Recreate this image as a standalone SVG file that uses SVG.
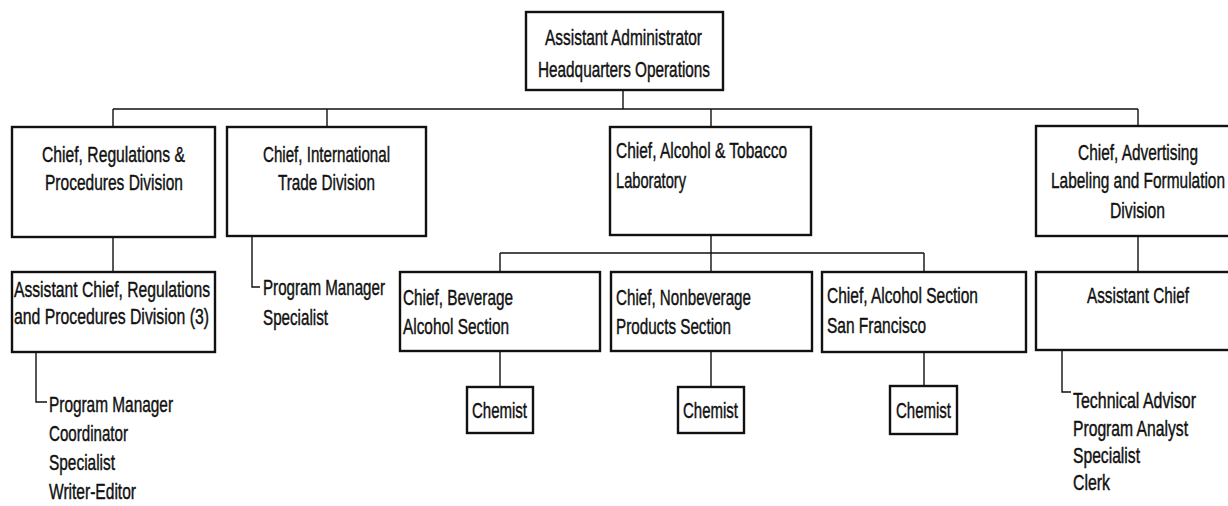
<svg xmlns="http://www.w3.org/2000/svg" width="1228" height="506" viewBox="0 0 1228 506">
<style>
.box{fill:#fff;stroke:#111;stroke-width:2.4}
.ln{fill:none;stroke:#111;stroke-width:1.4}
text{font-family:"Liberation Sans",Arial,sans-serif;font-size:15.5px;fill:#111;stroke:#111;stroke-width:0.3}
</style>
<rect width="1228" height="506" fill="#fff"/>
<g id="connectors">
<path class="ln" d="M623 90V109M113 109H1138M113 109V127M327 109V127M711 109V127M1138 109V126"/>
<path class="ln" d="M113 237V272M36 352V402H47M252 236V287H260"/>
<path class="ln" d="M711 235V272M500 253H924M500 253V272M924 253V272"/>
<path class="ln" d="M500 351V387M711 351V387M924 352V386"/>
<path class="ln" d="M1138 236V272M1062 350V392H1071"/>
</g>
<g id="n-top">
<rect class="box" x="526" y="12" width="197" height="78"/>
<text transform="translate(545 45) scale(1 1.42)" textLength="157" lengthAdjust="spacingAndGlyphs">Assistant Administrator</text>
<text transform="translate(538 77) scale(1 1.42)" textLength="172" lengthAdjust="spacingAndGlyphs">Headquarters Operations</text>
</g>
<g id="n-reg">
<rect class="box" x="12" y="127" width="203" height="110"/>
<text transform="translate(42 162) scale(1 1.42)" textLength="143" lengthAdjust="spacingAndGlyphs">Chief, Regulations &amp;</text>
<text transform="translate(45 190) scale(1 1.42)" textLength="138" lengthAdjust="spacingAndGlyphs">Procedures Division</text>
</g>
<g id="n-intl">
<rect class="box" x="227" y="127" width="199" height="109"/>
<text transform="translate(263 162) scale(1 1.42)" textLength="127" lengthAdjust="spacingAndGlyphs">Chief, International</text>
<text transform="translate(278 190) scale(1 1.42)" textLength="97" lengthAdjust="spacingAndGlyphs">Trade Division</text>
</g>
<g id="n-lab">
<rect class="box" x="610" y="127" width="201" height="108"/>
<text transform="translate(616 158) scale(1 1.42)" textLength="171" lengthAdjust="spacingAndGlyphs">Chief, Alcohol &amp; Tobacco</text>
<text transform="translate(616 188) scale(1 1.42)" textLength="70" lengthAdjust="spacingAndGlyphs">Laboratory</text>
</g>
<g id="n-adv">
<rect class="box" x="1036" y="126" width="200" height="110"/>
<text transform="translate(1078 160) scale(1 1.42)" textLength="120" lengthAdjust="spacingAndGlyphs">Chief, Advertising</text>
<text transform="translate(1051 188) scale(1 1.42)" textLength="174" lengthAdjust="spacingAndGlyphs">Labeling and Formulation</text>
<text transform="translate(1110 218) scale(1 1.42)" textLength="55" lengthAdjust="spacingAndGlyphs">Division</text>
</g>
<g id="n-asstreg">
<rect class="box" x="12" y="272" width="203" height="80"/>
<text transform="translate(14 297) scale(1 1.42)" textLength="196" lengthAdjust="spacingAndGlyphs">Assistant Chief, Regulations</text>
<text transform="translate(14 324) scale(1 1.42)" textLength="195" lengthAdjust="spacingAndGlyphs">and Procedures Division (3)</text>
</g>
<g id="n-reglist">
<text transform="translate(49 412) scale(1 1.42)" textLength="124" lengthAdjust="spacingAndGlyphs">Program Manager</text>
<text transform="translate(49 441) scale(1 1.42)" textLength="79" lengthAdjust="spacingAndGlyphs">Coordinator</text>
<text transform="translate(49 470) scale(1 1.42)" textLength="66" lengthAdjust="spacingAndGlyphs">Specialist</text>
<text transform="translate(49 499) scale(1 1.42)" textLength="87" lengthAdjust="spacingAndGlyphs">Writer-Editor</text>
</g>
<g id="n-intllist">
<text transform="translate(263 295) scale(1 1.42)" textLength="122" lengthAdjust="spacingAndGlyphs">Program Manager</text>
<text transform="translate(263 325) scale(1 1.42)" textLength="65" lengthAdjust="spacingAndGlyphs">Specialist</text>
</g>
<g id="n-bev">
<rect class="box" x="400" y="272" width="200" height="79"/>
<text transform="translate(403 305) scale(1 1.42)" textLength="110" lengthAdjust="spacingAndGlyphs">Chief, Beverage</text>
<text transform="translate(403 334) scale(1 1.42)" textLength="106" lengthAdjust="spacingAndGlyphs">Alcohol Section</text>
</g>
<g id="n-nonbev">
<rect class="box" x="611" y="272" width="201" height="79"/>
<text transform="translate(616 305) scale(1 1.42)" textLength="135" lengthAdjust="spacingAndGlyphs">Chief, Nonbeverage</text>
<text transform="translate(616 334) scale(1 1.42)" textLength="115" lengthAdjust="spacingAndGlyphs">Products Section</text>
</g>
<g id="n-sf">
<rect class="box" x="822" y="272" width="204" height="80"/>
<text transform="translate(827 303) scale(1 1.42)" textLength="151" lengthAdjust="spacingAndGlyphs">Chief, Alcohol Section</text>
<text transform="translate(827 333) scale(1 1.42)" textLength="99" lengthAdjust="spacingAndGlyphs">San Francisco</text>
</g>
<g id="n-asst">
<rect class="box" x="1036" y="272" width="200" height="78"/>
<text transform="translate(1087 303) scale(1 1.42)" textLength="102" lengthAdjust="spacingAndGlyphs">Assistant Chief</text>
</g>
<g id="n-chem1">
<rect class="box" x="467" y="387" width="66" height="46"/>
<text transform="translate(472 418) scale(1 1.42)" textLength="55" lengthAdjust="spacingAndGlyphs">Chemist</text>
</g>
<g id="n-chem2">
<rect class="box" x="678" y="387" width="66" height="46"/>
<text transform="translate(683 418) scale(1 1.42)" textLength="55" lengthAdjust="spacingAndGlyphs">Chemist</text>
</g>
<g id="n-chem3">
<rect class="box" x="890" y="386" width="67" height="48"/>
<text transform="translate(896 418) scale(1 1.42)" textLength="55" lengthAdjust="spacingAndGlyphs">Chemist</text>
</g>
<g id="n-advlist">
<text transform="translate(1073 408) scale(1 1.42)" textLength="123" lengthAdjust="spacingAndGlyphs">Technical Advisor</text>
<text transform="translate(1073 436) scale(1 1.42)" textLength="115" lengthAdjust="spacingAndGlyphs">Program Analyst</text>
<text transform="translate(1073 463) scale(1 1.42)" textLength="67" lengthAdjust="spacingAndGlyphs">Specialist</text>
<text transform="translate(1073 490) scale(1 1.42)" textLength="37" lengthAdjust="spacingAndGlyphs">Clerk</text>
</g>
</svg>
